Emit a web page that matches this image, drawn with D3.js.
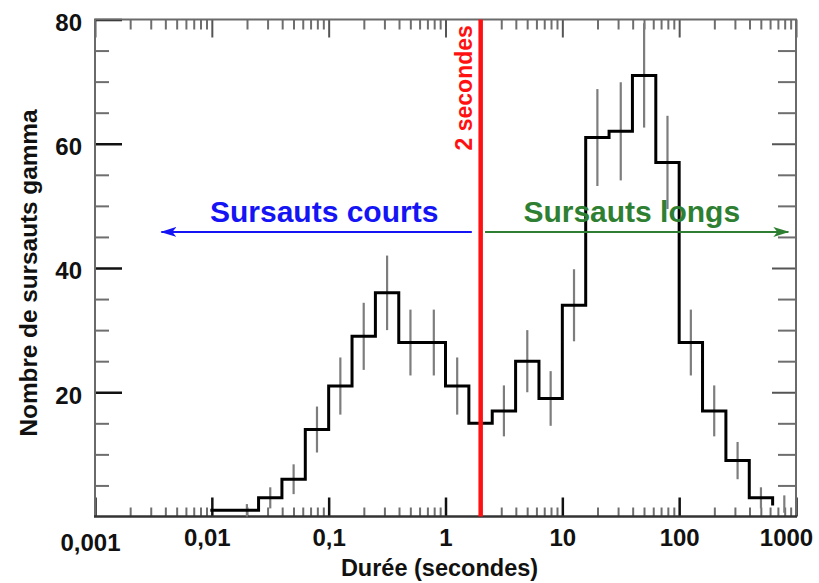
<!DOCTYPE html>
<html>
<head>
<meta charset="utf-8">
<script src="https://cdn.jsdelivr.net/npm/d3@7"></script>
<style>
  html, body { margin: 0; padding: 0; background: #fff; }
  svg { display: block; font-family: "Liberation Sans", Arial, sans-serif; }
</style>
</head>
<body>
<svg id="chart" width="819" height="583"></svg>
<script>
// Histogram of gamma-ray burst durations (log10 bins of 0.2 dex)
const binEdgesLog = [-2.0, -1.8, -1.6, -1.4, -1.2, -1.0, -0.8, -0.6, -0.4, -0.2,
                      0.0,  0.2,  0.4,  0.6,  0.8,  1.0,  1.2,  1.4,  1.6,  1.8,
                      2.0,  2.2,  2.4,  2.6,  2.8,  3.0];
const burstCounts = [1, 1, 3, 6, 14, 21, 29, 36, 28, 28,
                     21, 15, 17, 25, 19, 34, 61, 62, 71, 57,
                     28, 17, 9, 3, 2];
const countErrors = [null, 1.0, 1.7, 2.4, 3.7, 4.6, 5.4, 6.0, 5.3, 5.3,
                     4.6, 3.9, 4.1, 5.0, 4.4, 5.8, 7.8, 7.9, 8.4, 7.5,
                     5.3, 4.1, 3.0, 1.7, 1.4];

// Axis ticks
const xMajorTicks = [0.001, 0.01, 0.1, 1, 10, 100, 1000];
const xTickLabels = ["0,001", "0,01", "0,1", "1", "10", "100", "1000"];
const yMajorTicks = [20, 40, 60, 80];
const yMinorTicks = [5, 10, 15, 25, 30, 35, 45, 50, 55, 65, 70, 75];

// Separation between short and long bursts (seconds)
const splitDuration = 2;

const svg = d3.select("#chart");
const plotLeft = 95, plotRight = 796, plotTop = 19.5, plotBottom = 516.5;

const x = d3.scaleLog().domain([0.001, 1000]).range([plotLeft, plotRight]);
const y = d3.scaleLinear().domain([0, 80]).range([plotBottom, plotTop]);

const xMinorTicks = x.ticks().filter(v => !xMajorTicks.some(m => Math.abs(Math.log10(v) - Math.log10(m)) < 1e-6));

const FONT = "'Liberation Sans', Arial, sans-serif";

function styleAxis(g, color, width) {
  g.select(".domain").remove();
  g.selectAll(".tick line").attr("stroke", color).attr("stroke-width", width);
  g.selectAll("text").attr("fill", "#111").style("font-family", FONT)
    .style("font-weight", "bold").style("font-size", "24px");
}

// Bottom axis: minor ticks, then majors with labels
svg.append("g").attr("transform", `translate(0,${plotBottom})`)
  .call(d3.axisBottom(x).tickValues(xMinorTicks).tickSize(-9).tickFormat(""))
  .call(g => styleAxis(g, "#6e6e6e", 2));

const xAxisMajor = svg.append("g").attr("transform", `translate(0,${plotBottom})`)
  .call(d3.axisBottom(x).tickValues(xMajorTicks).tickSize(-19).tickPadding(12)
    .tickFormat((d, i) => xTickLabels[i]))
  .call(g => styleAxis(g, "#111", 2.5));
xAxisMajor.selectAll("text")
  .attr("dy", (d, i) => i === 0 ? "0.95em" : "0.71em")
  .attr("dx", (d, i) => i < 2 ? -5 : (i === xMajorTicks.length - 1 ? -10 : 0));

// Top axis (ticks only)
svg.append("g").attr("transform", `translate(0,${plotTop})`)
  .call(d3.axisTop(x).tickValues(xMinorTicks).tickSize(-10).tickFormat(""))
  .call(g => styleAxis(g, "#6e6e6e", 2));
svg.append("g").attr("transform", `translate(0,${plotTop})`)
  .call(d3.axisTop(x).tickValues(xMajorTicks).tickSize(-18).tickFormat(""))
  .call(g => styleAxis(g, "#555", 2));

// Left axis
svg.append("g").attr("transform", `translate(${plotLeft},0)`)
  .call(d3.axisLeft(y).tickValues(yMinorTicks).tickSize(-14).tickFormat(""))
  .call(g => styleAxis(g, "#6e6e6e", 2));
const yAxisMajor = svg.append("g").attr("transform", `translate(${plotLeft},0)`)
  .call(d3.axisLeft(y).tickValues(yMajorTicks).tickSize(-27).tickPadding(13))
  .call(g => styleAxis(g, "#111", 2.5));
yAxisMajor.selectAll("text").attr("dy", "0.45em");

// Right axis (ticks only)
svg.append("g").attr("transform", `translate(${plotRight},0)`)
  .call(d3.axisRight(y).tickValues(yMinorTicks).tickSize(-18).tickFormat(""))
  .call(g => styleAxis(g, "#6e6e6e", 2));
svg.append("g").attr("transform", `translate(${plotRight},0)`)
  .call(d3.axisRight(y).tickValues(yMajorTicks.slice(0, 3)).tickSize(-24).tickFormat(""))
  .call(g => styleAxis(g, "#555", 2));

// Frame
svg.append("path")
  .attr("d", `M${plotLeft},${plotBottom}V${plotTop}H${plotRight}V${plotBottom}`)
  .attr("fill", "none").attr("stroke", "#6a6a6a").attr("stroke-width", 2);
svg.append("line")
  .attr("x1", plotLeft - 1).attr("x2", plotRight + 1).attr("y1", plotBottom).attr("y2", plotBottom)
  .attr("stroke", "#333").attr("stroke-width", 2.5);

// Error bars at bin centres
const bins = burstCounts.map((c, i) => ({
  lo: Math.pow(10, binEdgesLog[i]),
  hi: Math.pow(10, binEdgesLog[i + 1]),
  mid: Math.pow(10, (binEdgesLog[i] + binEdgesLog[i + 1]) / 2),
  count: c,
  err: countErrors[i]
}));

svg.append("g").selectAll("line")
  .data(bins.filter(b => b.err !== null))
  .join("line")
  .attr("x1", b => x(b.mid)).attr("x2", b => x(b.mid))
  .attr("y1", b => y(Math.min(80, b.count + b.err)))
  .attr("y2", b => y(Math.max(0, b.count - b.err)))
  .attr("stroke", "#7d7d7d").attr("stroke-width", 2.2);

// Step histogram
const stepLine = d3.line()
  .x(b => x(b.lo)).y(b => y(b.count))
  .curve(d3.curveStepAfter);
svg.append("path")
  .datum(bins)
  .attr("d", stepLine)
  .attr("fill", "none").attr("stroke", "#000").attr("stroke-width", 3)
  .attr("stroke-linejoin", "miter").attr("stroke-linecap", "square");

// Annotation arrows
const defs = svg.append("defs");
function marker(id, color) {
  defs.append("marker").attr("id", id)
    .attr("viewBox", "0 0 16 10").attr("refX", 15).attr("refY", 5)
    .attr("markerWidth", 8).attr("markerHeight", 5).attr("markerUnits", "strokeWidth")
    .attr("orient", "auto")
    .append("path").attr("d", "M0,0L16,5L0,10L4,5Z").attr("fill", color);
}
const blue = "#1414f5", green = "#2f7f33", red = "#ff1111";
marker("arrowBlue", blue);
marker("arrowGreen", green);

const arrowLevel = 45.8;
svg.append("line")
  .attr("x1", x(1.68)).attr("x2", x(0.0037))
  .attr("y1", y(arrowLevel)).attr("y2", y(arrowLevel))
  .attr("stroke", blue).attr("stroke-width", 2).attr("marker-end", "url(#arrowBlue)");
svg.append("line")
  .attr("x1", x(2.18)).attr("x2", x(860))
  .attr("y1", y(arrowLevel)).attr("y2", y(arrowLevel))
  .attr("stroke", green).attr("stroke-width", 2).attr("marker-end", "url(#arrowGreen)");

svg.append("text")
  .attr("x", x(0.0915)).attr("y", y(arrowLevel) - 10)
  .attr("text-anchor", "middle").attr("fill", blue)
  .style("font-family", FONT).style("font-weight", "bold").style("font-size", "30px")
  .text("Sursauts courts");
svg.append("text")
  .attr("x", x(39.3)).attr("y", y(arrowLevel) - 10)
  .attr("text-anchor", "middle").attr("fill", green)
  .style("font-family", FONT).style("font-weight", "bold").style("font-size", "30px")
  .text("Sursauts longs");

// 2-second separation line
svg.append("line")
  .attr("x1", x(splitDuration)).attr("x2", x(splitDuration))
  .attr("y1", plotTop).attr("y2", plotBottom)
  .attr("stroke", red).attr("stroke-width", 4.5);
svg.append("text")
  .attr("transform", `translate(${x(splitDuration) - 9},${y(69)}) rotate(-90)`)
  .attr("text-anchor", "middle").attr("fill", red)
  .style("font-family", FONT).style("font-weight", "bold").style("font-size", "23px")
  .text("2 secondes");

// Axis titles
svg.append("text")
  .attr("x", 439.5).attr("y", 576)
  .attr("text-anchor", "middle").attr("fill", "#111")
  .style("font-family", FONT).style("font-weight", "bold").style("font-size", "23.5px")
  .text("Durée (secondes)");
svg.append("text")
  .attr("transform", `translate(36.5,273) rotate(-90)`)
  .attr("text-anchor", "middle").attr("fill", "#111")
  .attr("textLength", 327).attr("lengthAdjust", "spacingAndGlyphs")
  .style("font-family", FONT).style("font-weight", "bold").style("font-size", "23px")
  .text("Nombre de sursauts gamma");
</script>
</body>
</html>
